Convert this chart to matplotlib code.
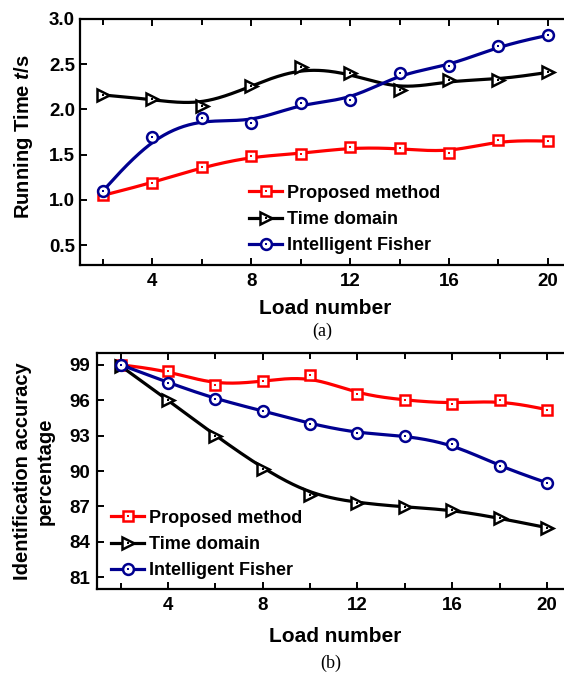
import numpy as np
import matplotlib
matplotlib.use('Agg')
from matplotlib import pyplot as plt
from matplotlib.legend_handler import HandlerTuple
from matplotlib.ticker import MultipleLocator, FormatStrFormatter

plt.rcParams['font.family'] = ['Liberation Sans', 'DejaVu Sans']
plt.rcParams['font.weight'] = 'bold'
plt.rcParams['mathtext.fontset'] = 'custom'
plt.rcParams['mathtext.it'] = 'Liberation Sans:italic:bold'

# load number (x axis of both panels)
loads = [2, 4, 6, 8, 10, 12, 14, 16, 18, 20]

# (a) running time in seconds
time_proposed = [1.05, 1.19, 1.36, 1.48, 1.51, 1.58, 1.57, 1.52, 1.66, 1.65]
time_domain = [2.16, 2.11, 2.04, 2.26, 2.47, 2.40, 2.21, 2.32, 2.33, 2.41]
time_fisher = [1.10, 1.70, 1.90, 1.85, 2.07, 2.10, 2.40, 2.48, 2.70, 2.82]

# (b) identification accuracy in percent
acc_proposed = [99.0, 98.5, 97.25, 97.6, 98.1, 96.5, 96.0, 95.7, 96.0, 95.2]
acc_domain = [98.9, 96.0, 93.0, 90.2, 88.0, 87.3, 86.95, 86.7, 86.0, 85.2]
acc_fisher = [99.0, 97.5, 96.1, 95.1, 94.0, 93.2, 93.0, 92.3, 90.4, 89.0]

names = ['Proposed method', 'Time domain', 'Intelligent Fisher']
colors = ['#ff0000', '#000000', '#000090']
markers = ['s', '>', 'o']
msizes = [7, 8.5, 7.8]


def bspline(x, y, n=30):
    # uniform cubic B-spline using the points as control points, clamped ends
    px = np.concatenate(([x[0]] * 2, x, [x[-1]] * 2)).astype(float)
    py = np.concatenate(([y[0]] * 2, y, [y[-1]] * 2)).astype(float)
    t = np.linspace(0, 1, n, endpoint=False)
    b0 = (1 - t) ** 3 / 6
    b1 = (3 * t ** 3 - 6 * t ** 2 + 4) / 6
    b2 = (-3 * t ** 3 + 3 * t ** 2 + 3 * t + 1) / 6
    b3 = t ** 3 / 6
    xs, ys = [], []
    for i in range(len(px) - 3):
        xs.append(b0 * px[i] + b1 * px[i + 1] + b2 * px[i + 2] + b3 * px[i + 3])
        ys.append(b0 * py[i] + b1 * py[i + 1] + b2 * py[i + 2] + b3 * py[i + 3])
    xs.append([px[-1]])
    ys.append([py[-1]])
    return np.concatenate(xs), np.concatenate(ys)


def draw_series(ax, series):
    handles = []
    for vals, c, m, ms in zip(series, colors, markers, msizes):
        sx, sy = bspline(loads, vals)
        ax.plot(sx, sy, color=c, lw=2.3)
        ax.plot(loads, vals, ls='none', marker=m, ms=ms, mfc='white', mec=c, mew=1.8)
        ax.plot(loads, vals, ls='none', marker='s', ms=1.5, mfc=c, mec=c, mew=0)
        h1, = ax.plot([], [], color=c, lw=2.3, marker=m, ms=ms, mfc='white', mec=c, mew=1.8)
        h2, = ax.plot([], [], ls='none', marker='s', ms=1.5, mfc=c, mec=c, mew=0)
        handles.append((h1, h2))
    return handles


def style_axes(ax, ypad):
    for s in ['left', 'bottom', 'top']:
        ax.spines[s].set_linewidth(1.6)
    ax.spines['right'].set_visible(False)
    ax.xaxis.set_major_locator(MultipleLocator(4))
    ax.xaxis.set_minor_locator(MultipleLocator(2))
    ax.tick_params(axis='x', which='both', direction='in', top=True, width=1.4, pad=6, labelsize=13.5)
    ax.tick_params(axis='x', which='major', length=5)
    ax.tick_params(axis='x', which='minor', length=4)
    ax.tick_params(axis='y', which='major', direction='in', length=5, width=1.4, labelsize=13.5,
                   pad=ypad)
    for lab in ax.get_xticklabels() + ax.get_yticklabels():
        lab.set_fontweight('bold')


def add_legend(ax, handles, anchor):
    ax.legend(handles, names, handler_map={tuple: HandlerTuple(ndivide=1)}, loc='upper left',
              bbox_to_anchor=anchor, frameon=False, fontsize=13, handlelength=1.85,
              handletextpad=0.28, labelspacing=0.52, borderaxespad=0, borderpad=0)


fig = plt.figure(figsize=(5.64, 6.73), dpi=100)
W, H = 564.0, 673.0

# (a) running time
ax1 = fig.add_axes([80 / W, 1 - 265 / H, (W - 80) / W, (265 - 19) / H])
h = draw_series(ax1, [time_proposed, time_domain, time_fisher])
ax1.set_xlim(1.07, 20.65)
ax1.set_ylim(0.28, 3.0)
ax1.yaxis.set_major_locator(MultipleLocator(0.5))
ax1.yaxis.set_major_formatter(FormatStrFormatter('%.1f'))
style_axes(ax1, 3.6)
ax1.set_ylabel('Running Time $t$/s', fontsize=14.5, fontweight='bold')
ax1.yaxis.set_label_coords(-0.093, 0.52)
ax1.set_xlabel('Load number', fontsize=15, fontweight='bold')
ax1.xaxis.set_label_coords(0.506, -0.14)
add_legend(ax1, h, (0.349, 0.327))
fig.text(322 / W, 1 - 331 / H, '(a)', ha='center', va='center', fontsize=13,
         family='Liberation Serif', fontweight='normal')

# (b) identification accuracy
ax2 = fig.add_axes([97 / W, 1 - 589 / H, (W - 97) / W, (589 - 353) / H])
h = draw_series(ax2, [acc_proposed, acc_domain, acc_fisher])
ax2.set_xlim(1.0, 20.72)
ax2.set_ylim(80, 100)
ax2.set_yticks([81, 84, 87, 90, 93, 96, 99])
style_axes(ax2, 5)
ax2.set_ylabel('Identification accuracy\npercentage', fontsize=14.5, fontweight='bold',
               linespacing=1.25)
ax2.yaxis.set_label_coords(-0.09, 0.5)
ax2.set_xlabel('Load number', fontsize=15, fontweight='bold')
ax2.xaxis.set_label_coords(0.51, -0.16)
add_legend(ax2, h, (0.030, 0.336))
fig.text(331 / W, 1 - 663 / H, '(b)', ha='center', va='center', fontsize=13,
         family='Liberation Serif', fontweight='normal')

fig.savefig('out.png', dpi=100)
